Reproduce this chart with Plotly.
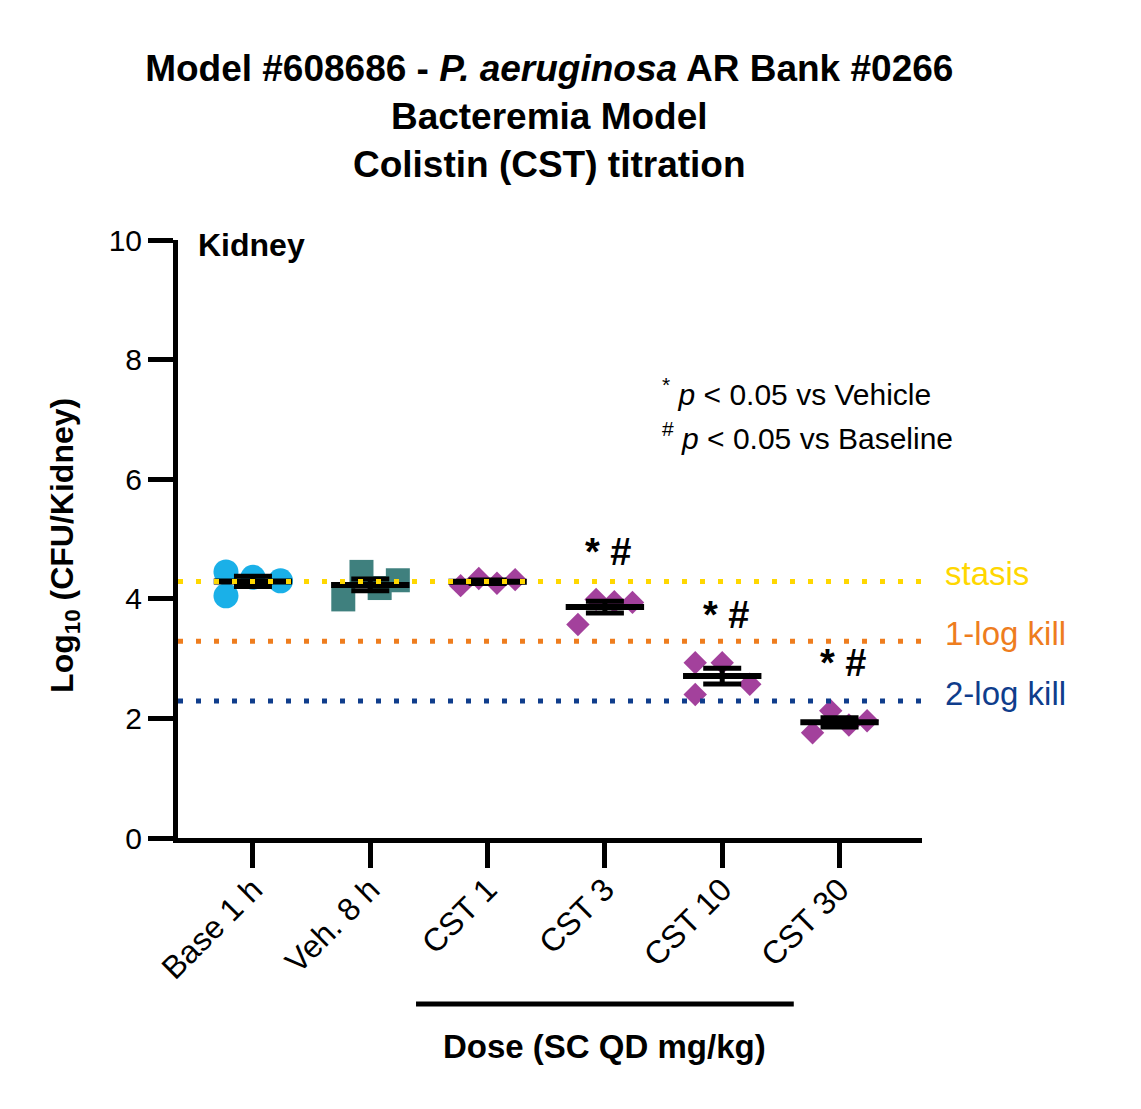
import numpy as np
import plotly.graph_objects as go

GROUPS = ["Base 1 h", "Veh. 8 h", "CST 1", "CST 3", "CST 10", "CST 30"]

base_1h = [4.45, 4.05, 4.36, 4.30]
veh_8h = [3.99, 4.45, 4.18, 4.31]
cst_1 = [4.22, 4.34, 4.26, 4.32]
cst_3 = [3.57, 3.99, 3.95, 3.94]
cst_10 = [2.93, 2.40, 2.93, 2.57]
cst_30 = [1.76, 2.13, 1.89, 1.96]

SIG_LABELS = ["", "", "", "* #", "* #", "* #"]
REF_NAMES = ["stasis", "1-log kill", "2-log kill"]
REF_DROP = [0, 1, 2]

FONT = "Liberation Sans, Arial, sans-serif"
CYAN = "#1AB0E8"
TEAL = "#3F807E"
PURPLE = "#A3419C"
REF_COLORS = ["#FFD700", "#EE7D1E", "#0F3D8C"]

values = [base_1h, veh_8h, cst_1, cst_3, cst_10, cst_30]
styles = [
    ("circle", 25, CYAN),
    ("square", 24, TEAL),
    ("diamond", 18, PURPLE),
    ("diamond", 18, PURPLE),
    ("diamond", 18, PURPLE),
    ("diamond", 18, PURPLE),
]
# horizontal spread of the points in each column (Prism-style scatter)
spread_a = [-0.23, -0.075, 0.08, 0.235]
spread_b = [-0.23, -0.23, 0.0, 0.235]
spreads = [spread_b, spread_a, spread_a, spread_a, spread_b, spread_a]

fig = go.Figure()

for i, (vals, (sym, size, col), sp) in enumerate(zip(values, styles, spreads)):
    fig.add_trace(go.Scatter(
        x=[i + s for s in sp], y=vals, mode="markers",
        marker=dict(symbol=sym, size=size, color=col, line=dict(width=0)),
        showlegend=False, cliponaxis=False, hoverinfo="y"
    ))

means = [np.mean(v) for v in values]
sems = [np.std(v, ddof=1) / np.sqrt(len(v)) for v in values]

# mean line (line-ew is drawn 1.4x the marker size) with SEM bars
fig.add_trace(go.Scatter(
    x=list(range(len(GROUPS))), y=means, mode="markers",
    marker=dict(symbol="line-ew", size=56, color="black",
                line=dict(width=6, color="black")),
    error_y=dict(type="data", array=sems, visible=True,
                 color="black", thickness=5, width=19),
    showlegend=False, cliponaxis=False
))

stasis = np.mean(base_1h)
ref_levels = [stasis - d for d in REF_DROP]

shapes = []
annotations = []
for name, lvl, col in zip(REF_NAMES, ref_levels, REF_COLORS):
    shapes.append(dict(type="line", xref="paper", x0=0, x1=1, yref="y",
                       y0=lvl, y1=lvl, layer="above",
                       line=dict(color=col, width=5, dash="5px,13px")))
    annotations.append(dict(text=name, xref="paper", x=1.028, xanchor="left",
                            yref="y", y=lvl, yanchor="middle", yshift=8,
                            showarrow=False, font=dict(size=33, color=col, family=FONT)))

for i, lab in enumerate(SIG_LABELS):
    if lab:
        annotations.append(dict(text="<b>" + lab + "</b>", x=i + 0.03, xanchor="center",
                                y=max(values[i]) + 0.8, yanchor="middle",
                                xref="x", yref="y", showarrow=False,
                                font=dict(size=38, color="black", family=FONT)))

# dose bracket under the CST columns
shapes.append(dict(type="line", xref="x", x0=1.39, x1=4.61, yref="paper",
                   y0=-0.2776, y1=-0.2776, line=dict(color="black", width=5)))

annotations += [
    dict(text="<b>Dose (SC QD mg/kg)</b>", xref="x", x=3.0, xanchor="center",
         yref="paper", y=-0.348, yanchor="middle",
         showarrow=False, font=dict(size=33, color="black", family=FONT)),
    dict(text="<b>Kidney</b>", xref="paper", x=0.024, xanchor="left",
         yref="paper", y=0.9916, yanchor="middle", showarrow=False,
         font=dict(size=32, color="black", family=FONT)),
    dict(text="<sup>*</sup> <i>p</i> &lt; 0.05 vs Vehicle", xref="paper", x=0.648,
         xanchor="left", yref="paper", y=0.746, yanchor="middle", showarrow=False,
         font=dict(size=30, color="black", family=FONT)),
    dict(text="<sup>#</sup> <i>p</i> &lt; 0.05 vs Baseline", xref="paper", x=0.648,
         xanchor="left", yref="paper", y=0.672, yanchor="middle", showarrow=False,
         font=dict(size=30, color="black", family=FONT)),
    dict(text="<b>Log<sub>10</sub> (CFU/Kidney)</b>", xref="paper", x=-0.152,
         xanchor="center", yref="paper", y=0.49, yanchor="middle",
         textangle=-90, showarrow=False,
         font=dict(size=32, color="black", family=FONT)),
]

fig.update_layout(
    width=1125, height=1093,
    paper_bgcolor="white", plot_bgcolor="white",
    margin=dict(l=170, r=211, t=232, b=263),
    font=dict(family=FONT, color="black"),
    title=dict(
        text="<b>Model #608686 - <i>P. aeruginosa</i> AR Bank #0266</b><br>"
             "<b>Bacteremia Model</b><br><b>Colistin (CST) titration</b>",
        x=0.499, xref="paper", xanchor="center",
        y=1 - 72.5 / 1093, yref="container", yanchor="middle",
        font=dict(size=37, color="black", family=FONT)
    ),
    xaxis=dict(
        range=[-0.639, 5.703], tickmode="array",
        tickvals=list(range(len(GROUPS))), ticktext=GROUPS, tickangle=-45,
        showline=True, linewidth=5, linecolor="black",
        ticks="outside", ticklen=25, tickwidth=5, tickcolor="black",
        ticklabelstandoff=-10,
        showgrid=False, zeroline=False,
        tickfont=dict(size=32, color="black", family=FONT)
    ),
    yaxis=dict(
        range=[0, 10], tickmode="array", tickvals=[0, 2, 4, 6, 8, 10],
        showline=True, linewidth=5, linecolor="black",
        ticks="outside", ticklen=25, tickwidth=5, tickcolor="black",
        showgrid=False, zeroline=False,
        tickfont=dict(size=30, color="black", family=FONT)
    ),
    shapes=shapes,
    annotations=annotations,
)

fig.write_html("out.html")
